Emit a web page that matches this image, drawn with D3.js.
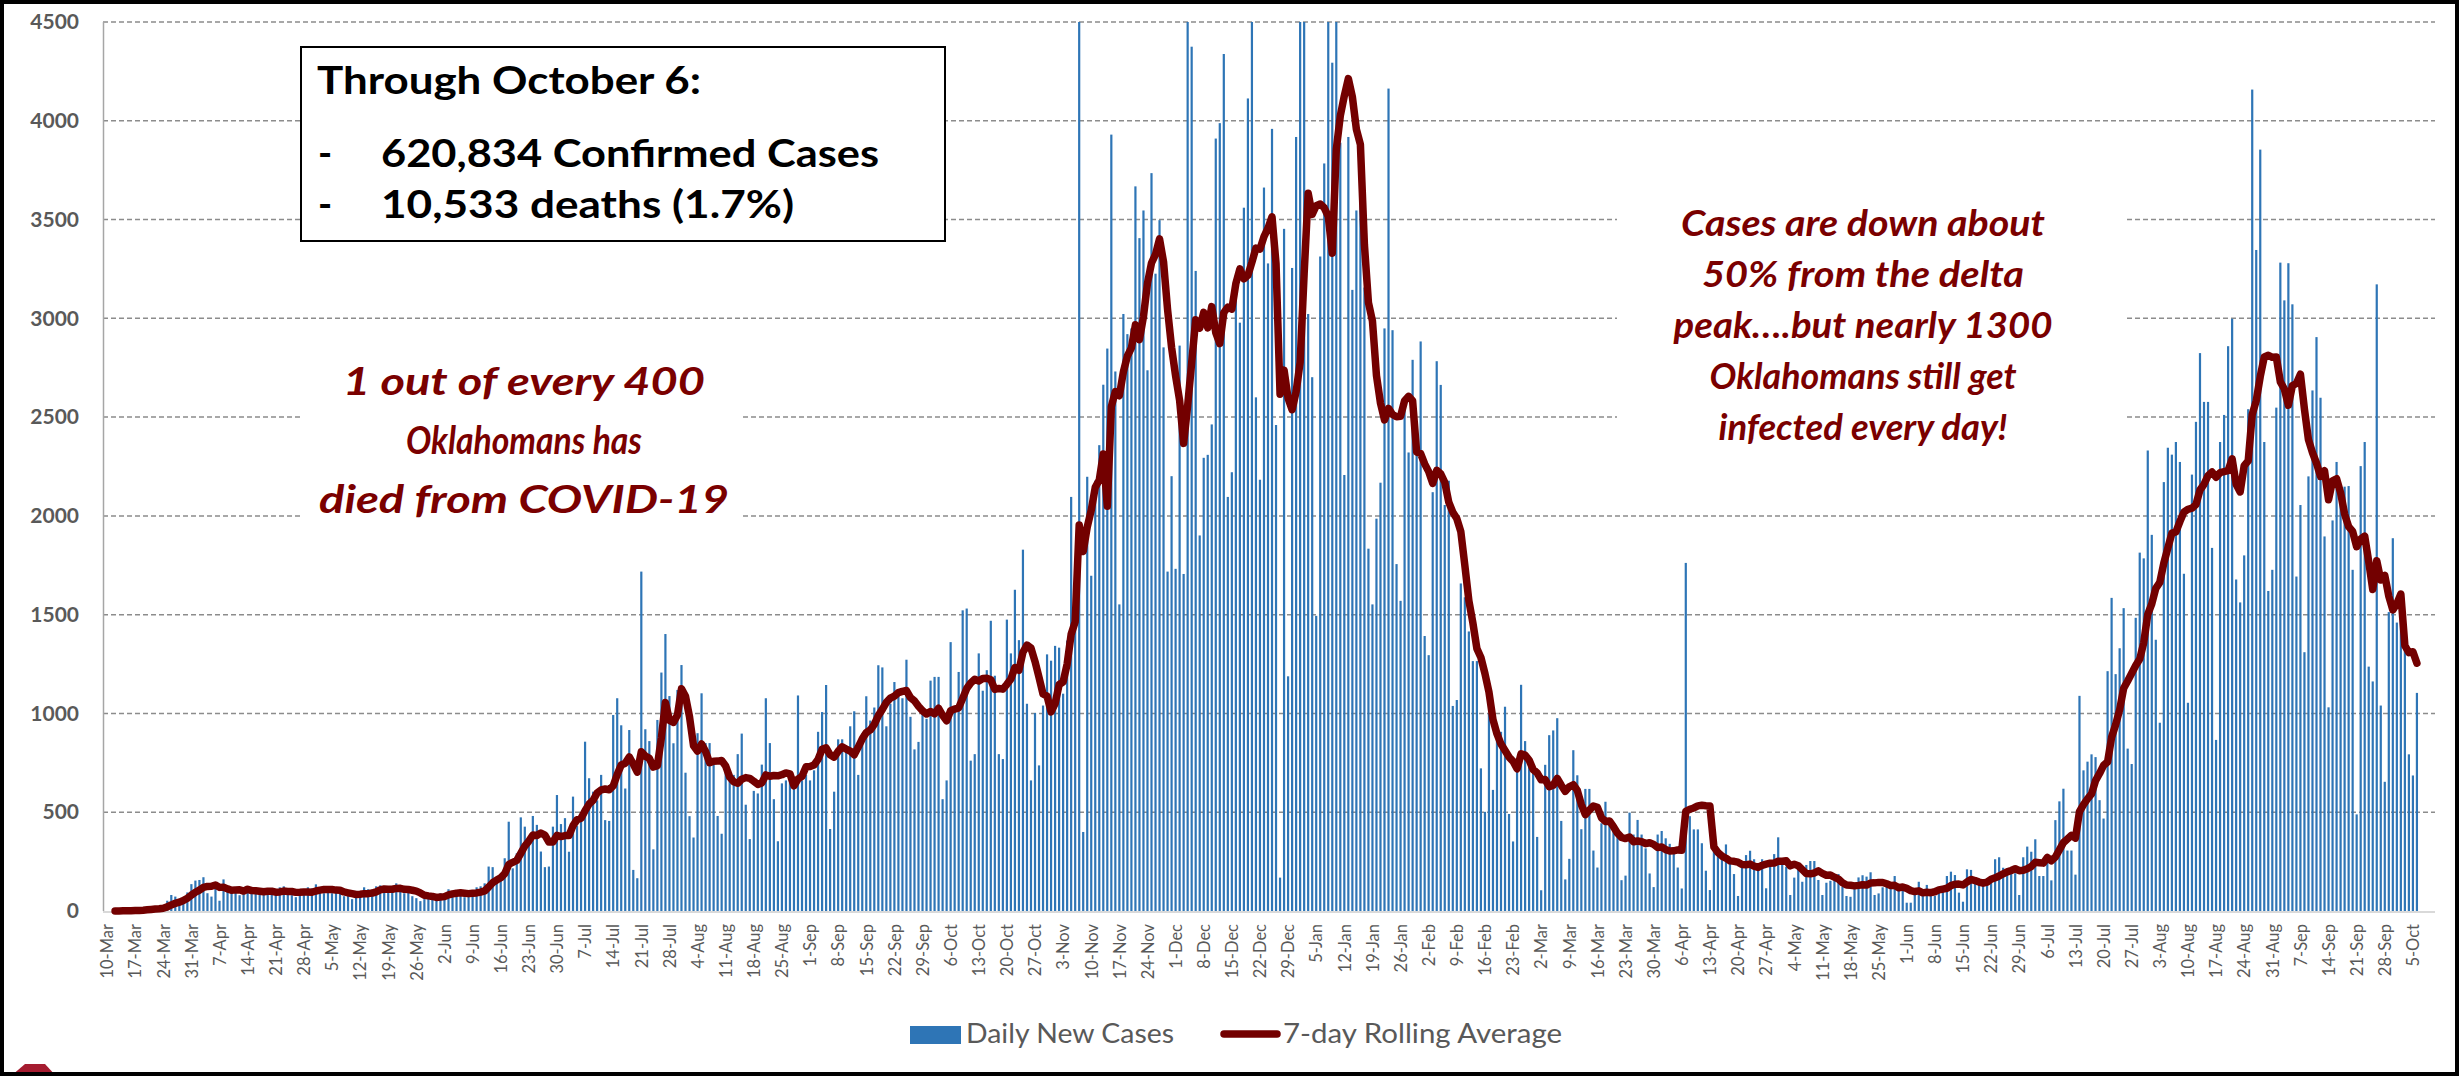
<!DOCTYPE html>
<html>
<head>
<meta charset="utf-8">
<script src="https://cdn.jsdelivr.net/npm/d3@7"></script>
<style>
  html, body { margin: 0; padding: 0; background: #fff; }
  svg { display: block; }
</style>
</head>
<body>
<svg id="chart" width="2459" height="1076"></svg>
<script>
// Daily new cases, one list per month, first value = 10-Mar-2020
const mar20 = [0,0,1,1,2,1,3, 7,5,10,15,14,14,14, 25,52,81,73,55,70,94, 136];
const apr20 = [154,157,171,90,73,140, 52,160,98,120,105,80,90, 120,110,95,100,85,100,90, 85,120,125,90,80,70,95, 95,120,115];
const may20 = [135,110,90,100, 90,100,110,75,80,60,70, 100,120,110,95,125,130,100, 95,115,140,100,90,120,75, 65,50,60,75,70,85];
const jun20 = [90, 80,110,95,100,85,70,75, 95,120,125,140,225,222,170, 174,267,452,216,292,474,427, 351,481,436,301,222,225,427, 587];
const jul20 = [440,470,300,579,430,480, 857,672,604,560,689,460,456, 992,1077,940,620,916,208,166, 1718,920,860,312,967,1207,1402, 1088,849,1119,1245];
const aug20 = [700,480,372,900,1102,850,850, 756,481,391,708,708,689,794, 898,538,364,608,595,741,1077, 850,566,353,646,661,708,652, 1091,661,689];
const sep20 = [661,712,907,1007,1144,415,604, 869,869,831,935,1011,689,898, 1087,964,1030,1244,1233,935,1049, 1159,1087,1077,1272,983,818,856, 1002,973];
const oct20 = [1166,1185,1185,566,661,1361,1030, 1210,1522,1531,761,794,1304,1115, 1219,1469,1191,794,769,1475,1304, 1626,1371,1829,1049,661,1002,737, 1040,1299,1267];
const nov20 = [1342,1333,1100,1369,2096,1741,4700, 400,2198,1697,2178,2358,2664,2847, 3930,2731,1552,3022,2920,2949,3668, 3406,3546,2737,3735,3226,3497,2853, 1718,2201];
const dec20 = [1732,2862,1706,4835,4375,3240,1901, 2294,2309,2463,3910,3988,4338,2096, 2221,3219,2978,3560,4113,4800,2600, 2183,3662,3278,3959,2460,169,3453, 1188,3255,3918];
const jan21 = [5000,5600,3022,2702,1494,3313,3784, 4700,4294,6700,3889,2207,3918,3144, 3546,3755,3156,1834,1552,1986,2168, 2949,4163,2940,1756,1570,2536,2321, 2790,2351,2883];
const feb21 = [1392,1295,2120,2783,2663,2055,2178, 1038,1068,1658,1588,1415,1265,1265, 722,502,1000,613,907,907,1034, 491,352,733,1145,860,733,699];
const mar21 = [375,105,740,890,914,976,456, 160,264,814,687,414,618,618, 306,220,444,553,433,414,387, 156,179,498,387,461,387,317, 190,121,387];
const apr21 = [405,368,340,322,220,114,1762, 480,413,413,343,204,106,305, 292,283,337,250,187,76,224, 283,305,262,208,262,115,258, 288,373];
const may21 = [262,224,81,169,208,148,233, 253,253,157,81,143,153,157, 187,123,76,72,123,170,181, 174,196,81,89,120,123,123, 177,110,106];
const jun21 = [42,42,89,148,106,132,89, 76,106,120,177,199,182,93, 47,211,208,140,143,143,132, 148,262,272,219,211,194,191, 81,272];
const jul21 = [326,300,363,177,177,280,155, 460,555,619,306,306,184,1089, 712,756,793,779,561,468,1214, 1585,1199,1330,1533,822,744,1484, 1814,1785,2331];
const aug21 = [1904,1373,953,2171,2345,2310,2374, 2273,1707,1054,2209,2476,2824,2577, 2577,1838,866,2374,2511,2859,2998, 1678,1562,1800,2540,4158,3346,3854, 2374,1620,1727];
const sep21 = [2548,3282,3091,3279,3071,1693,2055, 1310,2200,2635,2905,2598,1896,1031, 1977,2273,2142,2148,2151,1727,489, 2252,2374,1237,1162,3172,1040,654, 1513,1887];
const oct21 = [1460,1504,1344,793,686,1104];

const yTicks = [0, 500, 1000, 1500, 2000, 2500, 3000, 3500, 4000, 4500];
const seriesNames = ["Daily New Cases", "7-day Rolling Average"];
const boxLines = ["Through October 6:", "620,834 Confirmed Cases", "10,533 deaths (1.7%)"];
const noteLeft = ["1 out of every 400", "Oklahomans has", "died from COVID-19"];
const noteRight = ["Cases are down about", "50% from the delta", "peak\u2026.but nearly 1300", "Oklahomans still get", "infected every day!"];

const dailyCases = [].concat(mar20, apr20, may20, jun20, jul20, aug20, sep20, oct20, nov20, dec20,
    jan21, feb21, mar21, apr21, may21, jun21, jul21, aug21, sep21, oct21);
const startDate = new Date(Date.UTC(2020, 2, 10));

// trailing 7-day mean of the reported days
const series = dailyCases.map((v, i) => ({
    date: d3.utcDay.offset(startDate, i),
    cases: v,
    avg: d3.mean(dailyCases.slice(Math.max(0, i - 6), i + 1))
}));

const plot = {left: 103, right: 2435, top: 22, bottom: 911};
const barBlue = "#2e75b6", darkRed = "#730000", textRed = "#7a0000", axisGray = "#595959";
const font = "Lato, 'Open Sans', sans-serif";

const svg = d3.select("#chart");
svg.append("rect").attr("width", 2459).attr("height", 1076).attr("fill", "#fff");

const x = d3.scaleUtc()
    .domain([d3.utcDay.offset(startDate, -1), d3.utcHour.offset(startDate, 579.5 * 24)])
    .range([plot.left, plot.right]);
const y = d3.scaleLinear()
    .domain([0, 4500])
    .range([plot.bottom, plot.top])
    .clamp(true);

// gridlines
svg.append("g")
    .selectAll("line")
    .data(yTicks.filter(t => t > 0))
    .enter().append("line")
        .attr("x1", plot.left).attr("x2", plot.right)
        .attr("y1", d => y(d)).attr("y2", d => y(d))
        .attr("stroke", "#8c8c8c")
        .attr("stroke-width", 1.5)
        .attr("stroke-dasharray", "5,3");

// text boxes have a white fill that hides the gridlines
svg.append("rect").attr("x", 300).attr("y", 335).attr("width", 442).attr("height", 210).attr("fill", "#fff");
svg.append("rect").attr("x", 1617).attr("y", 135).attr("width", 510).attr("height", 360).attr("fill", "#fff");

// bars
svg.append("g")
    .selectAll("rect")
    .data(series)
    .enter().append("rect")
        .attr("x", d => x(d.date) - 1.1)
        .attr("width", 2.2)
        .attr("y", d => y(d.cases))
        .attr("height", d => y(0) - y(d.cases))
        .attr("fill", barBlue);

// axis lines
svg.append("line")
    .attr("x1", plot.left + 0.5).attr("x2", plot.left + 0.5)
    .attr("y1", plot.top).attr("y2", plot.bottom)
    .attr("stroke", "#a6a6a6").attr("stroke-width", 1.5);
svg.append("line")
    .attr("x1", plot.left).attr("x2", plot.right)
    .attr("y1", plot.bottom + 1).attr("y2", plot.bottom + 1)
    .attr("stroke", "#d9d9d9").attr("stroke-width", 2);

// rolling average
const line = d3.line()
    .x(d => x(d.date))
    .y(d => y(d.avg));
svg.append("path")
    .datum(series.slice(2))
    .attr("d", line)
    .attr("fill", "none")
    .attr("stroke", darkRed)
    .attr("stroke-width", 7.5)
    .attr("stroke-linejoin", "round")
    .attr("stroke-linecap", "round");

// y axis
svg.append("g")
    .attr("transform", `translate(${plot.left},0)`)
    .call(d3.axisLeft(y).tickValues(yTicks).tickFormat(d3.format("d")).tickSize(0).tickPadding(24))
    .call(g => g.select(".domain").remove())
    .attr("font-family", font)
    .attr("font-size", 21)
    .attr("font-weight", "bold")
    .selectAll("text").attr("fill", axisGray);

// x axis, one label per week
const tickDates = d3.utcTuesday.range(startDate, d3.utcDay.offset(startDate, dailyCases.length));
svg.append("g")
    .attr("transform", `translate(0,${plot.bottom})`)
    .call(d3.axisBottom(x).tickValues(tickDates).tickFormat(d3.utcFormat("%-d-%b")).tickSize(0))
    .call(g => g.select(".domain").remove())
    .attr("font-family", font)
    .attr("font-size", 16.5)
    .selectAll("text")
        .attr("fill", axisGray)
        .attr("text-anchor", "end")
        .attr("transform", "rotate(-90)")
        .attr("x", -13)
        .attr("y", 0)
        .attr("dy", "0.35em");

// stretch a text to a measured width
function fit(sel, w) {
    sel.attr("textLength", w).attr("lengthAdjust", "spacingAndGlyphs");
}

// summary box
svg.append("rect")
    .attr("x", 301).attr("y", 47).attr("width", 644).attr("height", 194)
    .attr("fill", "#fff").attr("stroke", "#000").attr("stroke-width", 2);
const boxY = [94, 167, 218], boxW = [384, 498, 413];
boxLines.forEach((t, i) => {
    const tx = svg.append("text")
        .attr("x", i == 0 ? 317 : 381).attr("y", boxY[i])
        .attr("font-family", font).attr("font-weight", "bold").attr("font-size", 38)
        .attr("fill", "#000")
        .text(t);
    fit(tx, boxW[i]);
    if (i > 0) {
        svg.append("text")
            .attr("x", 318).attr("y", boxY[i])
            .attr("font-family", font).attr("font-weight", "bold").attr("font-size", 38)
            .text("-");
    }
});

// red notes
const leftY = [395, 454, 513], leftW = [362, 236, 410];
noteLeft.forEach((t, i) => {
    fit(svg.append("text")
        .attr("x", 524).attr("y", leftY[i])
        .attr("text-anchor", "middle")
        .attr("font-family", font).attr("font-weight", "bold").attr("font-style", "italic")
        .attr("font-size", 39).attr("fill", textRed)
        .text(t), leftW[i]);
});
const rightY = [236, 287, 338, 389, 440], rightW = [364, 322, 379, 307, 289];
noteRight.forEach((t, i) => {
    fit(svg.append("text")
        .attr("x", 1863).attr("y", rightY[i])
        .attr("text-anchor", "middle")
        .attr("font-family", font).attr("font-weight", "bold").attr("font-style", "italic")
        .attr("font-size", 37).attr("fill", textRed)
        .text(t), rightW[i]);
});

// legend
const legend = svg.append("g").attr("font-family", font).attr("font-size", 26).attr("fill", axisGray);
legend.append("rect").attr("x", 910).attr("y", 1026).attr("width", 51).attr("height", 18).attr("fill", barBlue);
fit(legend.append("text").attr("x", 966).attr("y", 1043).text(seriesNames[0]), 208);
legend.append("line")
    .attr("x1", 1224).attr("x2", 1277).attr("y1", 1034).attr("y2", 1034)
    .attr("stroke", darkRed).attr("stroke-width", 7.5).attr("stroke-linecap", "round");
fit(legend.append("text").attr("x", 1283).attr("y", 1043).text(seriesNames[1]), 279);

// corner mark and frame
svg.append("polygon").attr("points", "11,1076 25,1064 45,1064 56,1076").attr("fill", "#a51c30");
svg.append("rect")
    .attr("x", 2).attr("y", 2).attr("width", 2455).attr("height", 1072)
    .attr("fill", "none").attr("stroke", "#000").attr("stroke-width", 4);
</script>
</body>
</html>
